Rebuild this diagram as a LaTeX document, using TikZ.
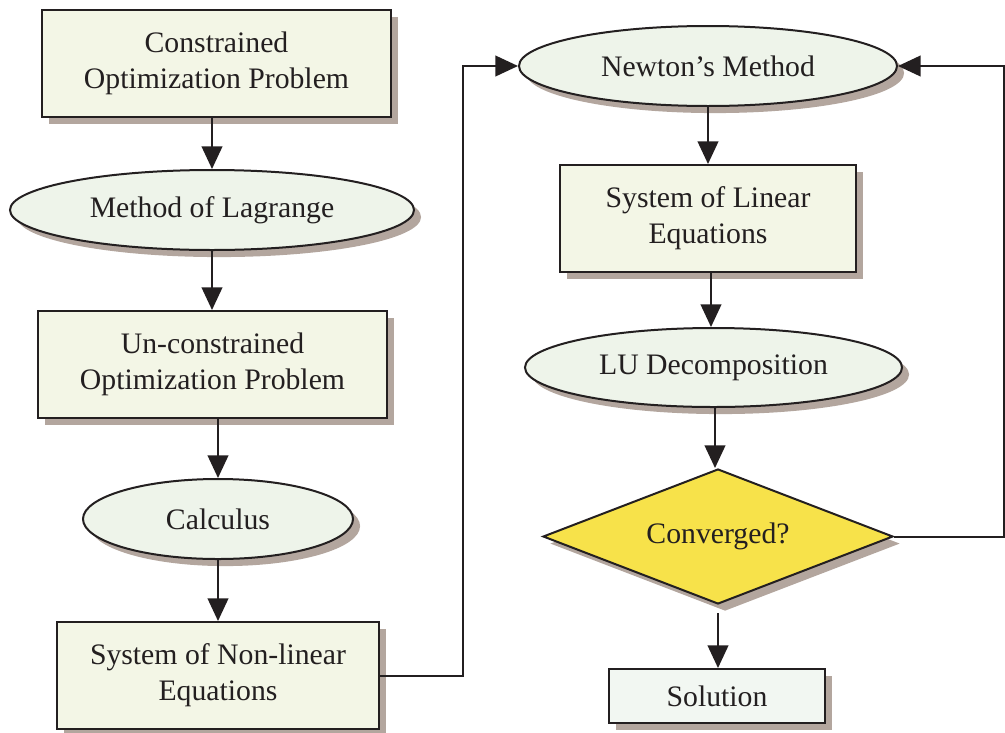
\documentclass[tikz,border=0pt]{standalone}
\usepackage{fontspec}
\setmainfont{Liberation Serif}
\usetikzlibrary{shapes.geometric,shadows,arrows.meta}
\definecolor{boxfill}{HTML}{F3F6E6}
\definecolor{ovalfill}{HTML}{EEF4EA}
\definecolor{solfill}{HTML}{F2F7F2}
\definecolor{decfill}{HTML}{F7E24A}
\definecolor{shadowc}{HTML}{B3A69E}
\definecolor{ink}{HTML}{231F20}
\begin{document}
\begin{tikzpicture}[x=0.75pt,y=-0.75pt,
  every node/.style={font=\fontsize{22.3}{27}\selectfont, text=ink, align=center, inner sep=0pt, draw=ink, line width=1.5pt},
  shad/.style={drop shadow={shadow xshift=5.3pt, shadow yshift=-5.3pt, fill=shadowc, opacity=1}},
  procbox/.style={rectangle, fill=boxfill, shad},
  oval/.style={ellipse, fill=ovalfill, shad},
  decide/.style={diamond, aspect=2.6, fill=decfill, shad},
  arr/.style={draw=ink, line width=1.5pt, -{Triangle[length=17pt,width=15.5pt]}},
  ln/.style={draw=ink, line width=1.5pt}]
\useasboundingbox (0,0) rectangle (1005,732);
\node[procbox, minimum width=349*0.75pt, minimum height=107*0.75pt] (n1) at (216.5,63.5) {Constrained\\Optimization Problem};
\node[oval, minimum width=404*0.75pt, minimum height=80*0.75pt] (n2) at (212,210) {Method of Lagrange};
\node[procbox, minimum width=349*0.75pt, minimum height=107*0.75pt] (n3) at (212.5,364.5) {Un-constrained\\Optimization Problem};
\node[oval, minimum width=270*0.75pt, minimum height=80*0.75pt] (n4) at (218,519) {Calculus};
\node[procbox, minimum width=322*0.75pt, minimum height=107*0.75pt] (n5) at (218,675.5) {System of Non-linear\\Equations};
\node[oval, minimum width=378*0.75pt, minimum height=80*0.75pt] (n6) at (708,66) {Newton’s Method};
\node[procbox, minimum width=296*0.75pt, minimum height=107*0.75pt] (n7) at (708,218.5) {System of Linear\\Equations};
\node[oval, minimum width=377*0.75pt, minimum height=79*0.75pt] (n8) at (713.5,367.5) {LU Decomposition};
\node[decide, minimum width=350*0.75pt, minimum height=135*0.75pt] (n9) at (718,536.5) {Converged?};
\node[procbox, fill=solfill, minimum width=216*0.75pt, minimum height=54*0.75pt] (n10) at (717,696) {Solution};
\coordinate (c1) at (463,0);
\coordinate (c2) at (1004,0);
\coordinate (c3) at (711,0);
\coordinate (c4) at (715,0);
\draw[arr] (n1.south -| n2.north) -- (n2.north);
\draw[arr] (n2.south) -- (n3.north -| n2.south);
\draw[arr] (n3.south -| n4.north) -- (n4.north);
\draw[arr] (n4.south) -- (n5.north -| n4.south);
\draw[arr] (n6.south) -- (n7.north -| n6.south);
\draw[arr] (n7.south -| c3) -- (n8.north -| c3);
\draw[arr] (n8.south -| c4) -- (n9.north -| c4);
\draw[arr, shorten <=6pt] (n9.south) -- (n10.north -| n9.south);
\draw[arr] (n5.east) -- (n5.east -| c1) -- (c1 |- n6.west) -- (n6.west);
\draw[arr] (n9.east) -- (n9.east -| c2) -- (c2 |- n6.east) -- (n6.east);
\end{tikzpicture}
\end{document}
